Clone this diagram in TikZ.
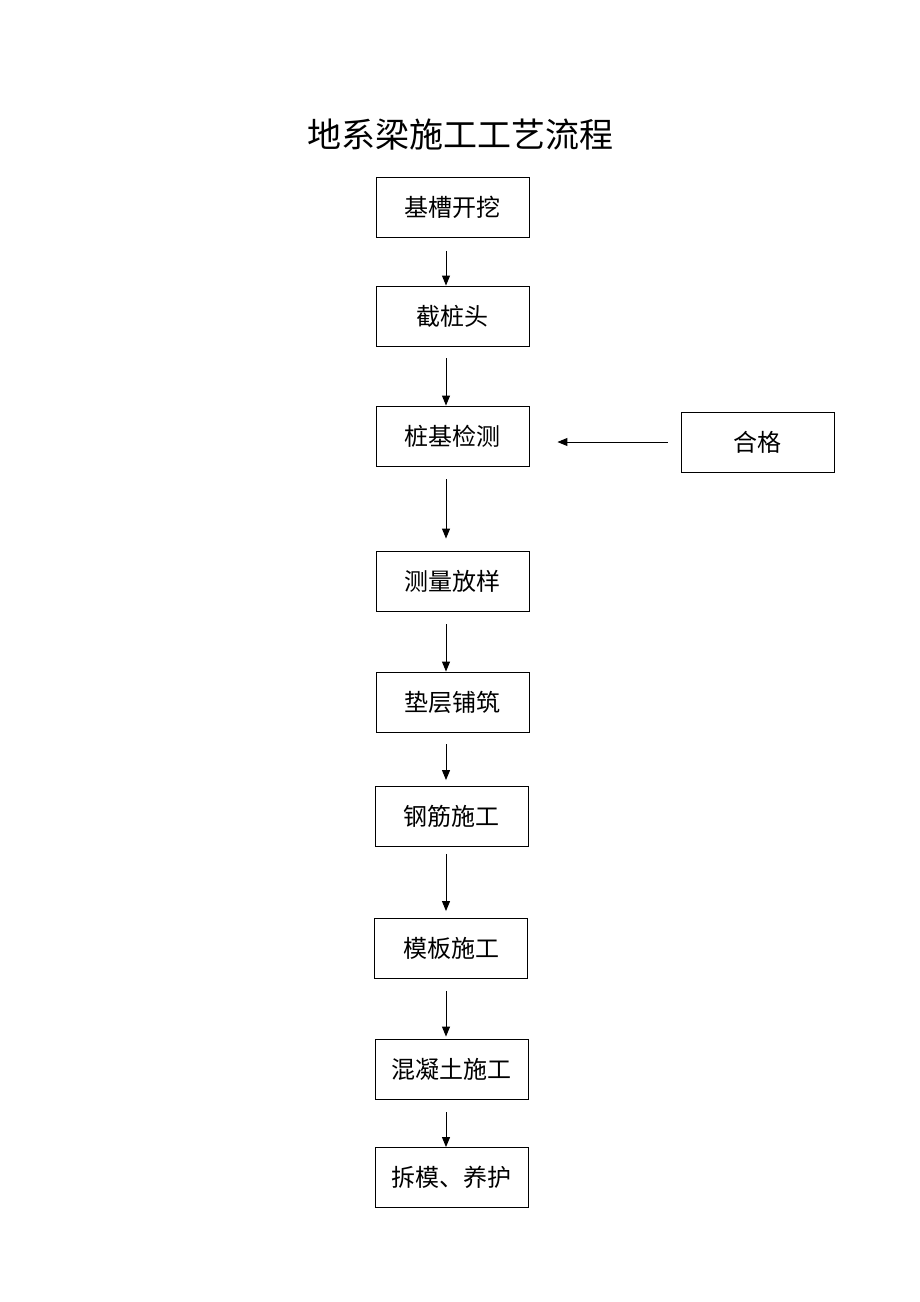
\documentclass[tikz,border=0pt]{standalone}
\usepackage{fontspec}
\setmainfont{Noto Sans CJK SC}
\usetikzlibrary{arrows.meta}
\begin{document}
\begin{tikzpicture}[x=1pt,y=-1pt,
  stepbox/.style={draw,line width=0.9pt,minimum width=153pt,minimum height=60pt,inner sep=0pt,font=\fontsize{24}{24}\selectfont},
  arr/.style={-{Triangle[length=10pt,width=8pt]},line width=1pt}]
\useasboundingbox (0,0) rectangle (920,1302);
\node (title) at (460,135) {\fontsize{34}{34}\selectfont 地系梁施工工艺流程};
\node (dig)   [stepbox] at (452.5,207.5) {基槽开挖};
\node (cut)   [stepbox] at (452.5,316)   {截桩头};
\node (test)  [stepbox] at (452.5,436)   {桩基检测};
\node (ok)    [stepbox] at (757.5,442)   {合格};
\node (mark)  [stepbox] at (452.5,581)   {测量放样};
\node (pad)   [stepbox] at (452.5,702)   {垫层铺筑};
\node (steel) [stepbox] at (451.5,816.5) {钢筋施工};
\node (form)  [stepbox] at (451,948.5)   {模板施工};
\node (pour)  [stepbox] at (451.5,1069)  {混凝土施工};
\node (cure)  [stepbox] at (451.5,1177.5){拆模、养护};
% arrows
\draw [arr,shorten <=13pt] ([xshift=-6.5pt]dig.south) -- ([xshift=-6.5pt]cut.north);
\draw [arr,shorten <=12pt] ([xshift=-6.5pt]cut.south) -- ([xshift=-6.5pt]test.north);
\draw [arr,shorten <=13pt,shorten >=12pt] ([xshift=-6.5pt]test.south) -- ([xshift=-6.5pt]mark.north);
\draw [arr,shorten <=13pt] ([xshift=-6.5pt]mark.south) -- ([xshift=-6.5pt]pad.north);
\draw [arr,shorten <=12pt,shorten >=6pt] ([xshift=-6.5pt]pad.south) -- ([xshift=-5.5pt]steel.north);
\draw [arr,shorten <=7pt,shorten >=7pt] ([xshift=-5.5pt]steel.south) -- ([xshift=-5pt]form.north);
\draw [arr,shorten <=12pt,shorten >=2pt] ([xshift=-5pt]form.south) -- ([xshift=-5.5pt]pour.north);
\draw [arr,shorten <=13pt] ([xshift=-5.5pt]pour.south) -- ([xshift=-5.5pt]cure.north);
\draw [arr,shorten <=13pt,shorten >=28pt] (ok.west) -- (ok.west -| test.east);
\end{tikzpicture}
\end{document}
